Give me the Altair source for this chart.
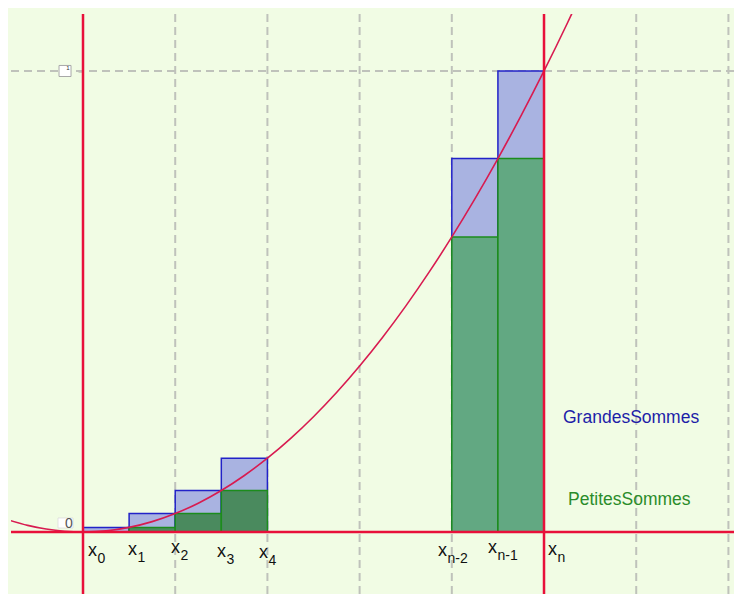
import altair as alt
import pandas as pd

# ---- data ----
rect_left = [0.0, 0.1, 0.2, 0.3, 0.8, 0.9]
rect_right = [0.1, 0.2, 0.3, 0.4, 0.9, 1.0]
upper_h = [0.01, 0.04, 0.09, 0.16, 0.81, 1.0]
lower_h = [0.0, 0.01, 0.04, 0.09, 0.64, 0.81]
shade = ["dark", "dark", "dark", "dark", "light", "light"]

curve_x = [-0.16, -0.12, -0.08, -0.04, 0.0, 0.05, 0.1, 0.15, 0.2, 0.25, 0.3, 0.35, 0.4,
           0.45, 0.5, 0.55, 0.6, 0.65, 0.7, 0.75, 0.8, 0.85, 0.9, 0.95, 1.0, 1.05, 1.1]
curve_y = [0.0256, 0.0144, 0.0064, 0.0016, 0.0, 0.0025, 0.01, 0.0225, 0.04, 0.0625, 0.09,
           0.1225, 0.16, 0.2025, 0.25, 0.3025, 0.36, 0.4225, 0.49, 0.5625, 0.64, 0.7225,
           0.81, 0.9025, 1.0, 1.1025, 1.21]

red_vertical = [0.0, 1.0]
red_horizontal = [0.0]
grid_x = [0.2, 0.4, 0.6, 0.8, 1.2, 1.4]
grid_y = [1.0]

tick_sub = ["0", "1", "2", "3", "4", "n-2", "n-1", "n"]
tick_lx = [0.0108, 0.0976, 0.1909, 0.2907, 0.3818, 0.7701, 0.8785, 1.0087]
tick_ly = [-0.0521, -0.0499, -0.0456, -0.0542, -0.0564, -0.0521, -0.0456, -0.0499]

legend_text = ["GrandesSommes", "PetitesSommes"]
legend_x = [1.0412, 1.0521]
legend_y = [0.2364, 0.0586]

axis_box_text = ["1", "0"]
axis_box_x = [-0.039, -0.038]
axis_box_y = [1.0, 0.0195]

FONT = "Liberation Sans"

xs = alt.Scale(domain=[-0.1562, 1.4121], nice=False, zero=False)
ys = alt.Scale(domain=[-0.1345, 1.1236], nice=False, zero=False)
yaxis = alt.Axis(values=[1], offset=-72, domain=False, labels=False, grid=False,
                 ticks=True, tickSize=5, tickColor="#555555", tickWidth=1.5, title=None)


def X(f):
    return alt.X(f, type="quantitative", scale=xs, axis=None)


def Y(f):
    return alt.Y(f, type="quantitative", scale=ys, axis=yaxis)


rects = pd.DataFrame({"l": rect_left, "r": rect_right, "up": upper_h, "lo": lower_h,
                      "shade": shade, "zero": [0.0] * len(rect_left)})
curve = pd.DataFrame({"x": curve_x, "y": curve_y})
labels = pd.DataFrame({"lx": tick_lx, "ly": tick_ly, "sub": tick_sub,
                       "x": ["x"] * len(tick_sub)})
legend = pd.DataFrame({"t": legend_text, "x": legend_x, "y": legend_y})

gridv = alt.Chart(pd.DataFrame({"g": grid_x})).mark_rule(
    color="#bfc2bb", strokeWidth=2, strokeDash=[8, 5]).encode(x=X("g"))
gridh = alt.Chart(pd.DataFrame({"g": grid_y})).mark_rule(
    color="#bfc2bb", strokeWidth=2, strokeDash=[8, 5]).encode(y=Y("g"))

big = alt.Chart(rects).mark_rect(fill="#a9b3e1", stroke="#2222c8", strokeWidth=1.5).encode(
    x=X("l"), x2="r", y=Y("zero"), y2="up")
small = alt.Chart(rects).mark_rect(stroke="#1c8c1c", strokeWidth=1.5, opacity=1).encode(
    x=X("l"), x2="r", y=Y("zero"), y2="lo",
    fill=alt.Fill("shade:N", scale=alt.Scale(domain=["dark", "light"],
                                             range=["#4a8a5e", "#62a882"]), legend=None))

line = alt.Chart(curve).mark_line(color="#d81b50", strokeWidth=1.6, clip=True,
                                  interpolate="monotone").encode(x=X("x"), y=Y("y"))

redv = alt.Chart(pd.DataFrame({"v": red_vertical})).mark_rule(
    color="#e8103a", strokeWidth=2.5).encode(x=X("v"))
redh = alt.Chart(pd.DataFrame({"v": red_horizontal})).mark_rule(
    color="#e8103a", strokeWidth=2.5).encode(y=Y("v"))

xlab = alt.Chart(labels).mark_text(font=FONT, fontSize=18, align="left", baseline="alphabetic",
                                   color="#111111").encode(x=X("lx"), y=Y("ly"), text="x:N")
sublab = alt.Chart(labels).mark_text(font=FONT, fontSize=14, align="left", baseline="alphabetic",
                                     color="#111111", dx=9.5, dy=7).encode(
    x=X("lx"), y=Y("ly"), text="sub:N")

leg = alt.Chart(legend).mark_text(font=FONT, fontSize=17.5, align="left",
                                  baseline="alphabetic").encode(
    x=X("x"), y=Y("y"), text="t:N",
    color=alt.Color("t:N", scale=alt.Scale(domain=legend_text, range=["#1e1ea8", "#2a8c2a"]),
                    legend=None))

boxes = pd.DataFrame({"t": axis_box_text, "x": axis_box_x, "y": axis_box_y})
box1 = alt.Chart(boxes.iloc[[0]]).mark_point(
    shape="M-1,-0.92L1,-0.92L1,0.92L-1,0.92Z", size=144, filled=True, fill="white",
    stroke="#a8a8a8", strokeWidth=1, opacity=1).encode(x=X("x"), y=Y("y"))
box1t = alt.Chart(boxes.iloc[[0]]).mark_text(font=FONT, fontSize=6, color="#333333",
                                             dx=3, dy=-3).encode(x=X("x"), y=Y("y"), text="t:N")
box0 = alt.Chart(boxes.iloc[[1]]).mark_point(
    shape="M-1,-0.67L1,-0.67L1,0.67L-1,0.67Z", size=225, filled=True, fill="white",
    stroke="#dcdcdc", strokeWidth=0.8, opacity=1).encode(x=X("x"), y=Y("y"))
box0t = alt.Chart(boxes.iloc[[1]]).mark_text(font=FONT, fontSize=14, color="#555555",
                                             dx=3.5, dy=1, baseline="middle").encode(
    x=X("x"), y=Y("y"), text="t:N")

chart = alt.layer(gridv, gridh, big, small, line, redv, redh, xlab, sublab, leg,
                  box1, box1t, box0, box0t).properties(
    width=723, height=580,
    padding={"left": 3, "top": 6, "right": 0, "bottom": 0},
    autosize="none",
    background="#f1fce4",
).configure_view(stroke=None)

chart.save("out.html", embed_options={"renderer": "svg", "actions": False})
